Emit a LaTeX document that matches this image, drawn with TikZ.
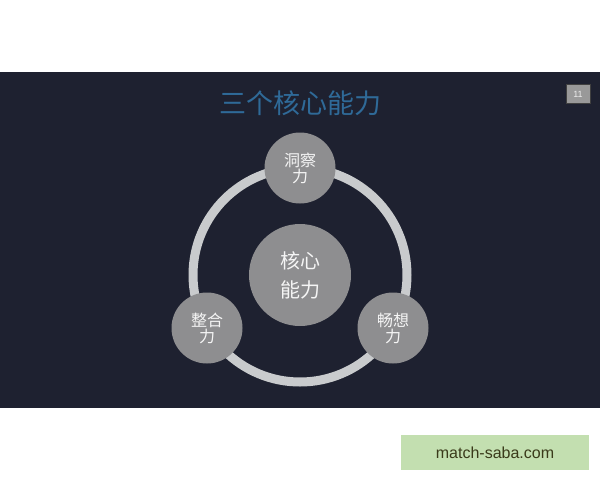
\documentclass[tikz,border=0pt]{standalone}
\usepackage{fontspec}
\setmainfont{Liberation Sans}
\newfontfamily\cjk{Noto Sans CJK SC}
\definecolor{slidebg}{HTML}{1E2130}
\definecolor{titleblue}{HTML}{2F6A98}
\definecolor{ballgray}{HTML}{8E8E90}
\definecolor{ringgray}{HTML}{C9CBCD}
\definecolor{boxgreen}{HTML}{C3DFB0}
\definecolor{boxtext}{HTML}{3A3A1A}
\tikzset{
  ball/.style={circle, fill=ballgray, draw=none, minimum size=#1, inner sep=0pt, text=white!92!gray, align=center},
}
\begin{document}
\begin{tikzpicture}[x=1pt,y=-1pt]
\useasboundingbox (0,0) rectangle (600,480);
\fill[white] (0,0) rectangle (600,480);
\fill[slidebg] (0,72) rectangle (600,408);
\node[text=titleblue, font=\cjk\fontsize{27}{30}\selectfont] (title) at (300,103) {三个核心能力};
\node[fill=gray!80, draw=gray!50!black, line width=0.6pt, minimum width=24pt, minimum height=19pt, inner sep=0pt, text=white!85!gray, font=\fontsize{9}{10}\selectfont] (pg) at (578,94) {11};
\coordinate (c) at (300,275);
\draw[ringgray, line width=9pt] (c) circle[radius=107];
\node[ball=102pt, font=\cjk\fontsize{20}{29}\selectfont] (core) at (c) {核心\\能力};
\node[ball=71pt, font=\cjk\fontsize{16}{16}\selectfont] (top) at (300,168) {洞察\\力};
\node[ball=71pt, font=\cjk\fontsize{16}{16}\selectfont] (left) at (207,328) {整合\\力};
\node[ball=71pt, font=\cjk\fontsize{16}{16}\selectfont] (right) at (393,328) {畅想\\力};
\node[fill=boxgreen, minimum width=188pt, minimum height=35pt, inner sep=0pt, text=boxtext, font=\fontsize{16}{18}\selectfont] (site) at (495,452.5) {match-saba.com};
\end{tikzpicture}
\end{document}
